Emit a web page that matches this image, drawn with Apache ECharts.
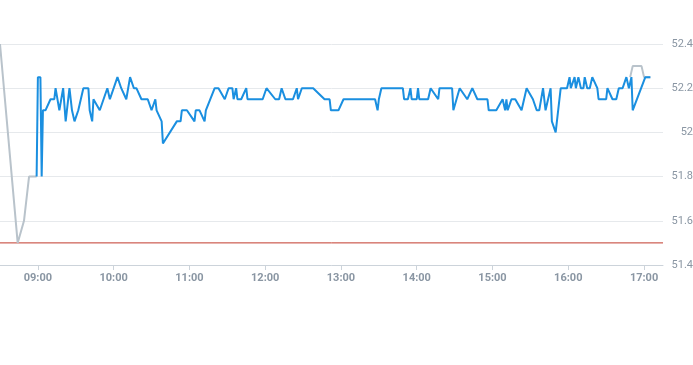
<!DOCTYPE html>
<html>
<head>
<meta charset="utf-8">
<script src="https://cdn.jsdelivr.net/npm/echarts@6/dist/echarts.min.js"></script>
<style>html,body{margin:0;padding:0;background:#fff;}#c{width:693px;height:365px;}</style>
</head>
<body>
<div id="c"></div>
<script>
var axisMin = '08:30';
var axisMax = '17:15';
var yTicks = [51.4, 51.6, 51.8, 52, 52.2, 52.4];
var refLevel = 51.5;

var preTimes = ['08:30','08:44','08:49','08:53','08:59'];
var preValues = [52.4, 51.5, 51.6, 51.8, 51.8];

var postTimes = ['16:49','16:51','16:58','17:00','17:05'];
var postValues = [52.25, 52.3, 52.3, 52.25, 52.25];

var blueTimes = ['08:59','09:00','09:02','09:03','09:04','09:06','09:10','09:13','09:14','09:17','09:18','09:20','09:22','09:23','09:25','09:27','09:29','09:32','09:36','09:40','09:41','09:43','09:44','09:49','09:55','09:56','09:57','10:03','10:06','10:10','10:13','10:16','10:18','10:22','10:27','10:30','10:33','10:34','10:38','10:39','10:50','10:53','10:54','10:58','11:04','11:05','11:08','11:12','11:13','11:20','11:23','11:28','11:31','11:34','11:35','11:37','11:38','11:41','11:45','11:46','11:58','12:01','12:08','12:11','12:13','12:16','12:22','12:25','12:26','12:29','12:38','12:47','12:51','12:52','12:58','13:02','13:27','13:29','13:30','13:32','13:49','13:50','13:53','13:55','13:56','14:00','14:01','14:02','14:09','14:11','14:17','14:18','14:28','14:29','14:34','14:40','14:44','14:48','14:56','14:57','15:03','15:08','15:10','15:11','15:12','15:15','15:18','15:23','15:27','15:32','15:35','15:37','15:40','15:42','15:46','15:47','15:50','15:54','15:59','16:01','16:02','16:05','16:06','16:08','16:10','16:12','16:13','16:15','16:17','16:19','16:23','16:24','16:30','16:31','16:35','16:38','16:40','16:43','16:46','16:48','16:50','16:51','17:01','17:05'];
var blueValues = [51.8,52.25,52.25,51.8,52.1,52.1,52.15,52.15,52.2,52.1,52.1,52.2,52.05,52.05,52.2,52.1,52.05,52.1,52.2,52.2,52.1,52.05,52.15,52.1,52.2,52.2,52.15,52.25,52.2,52.15,52.25,52.2,52.2,52.15,52.15,52.1,52.15,52.1,52.05,51.95,52.05,52.05,52.1,52.1,52.05,52.1,52.1,52.05,52.1,52.2,52.2,52.15,52.2,52.2,52.15,52.2,52.15,52.15,52.2,52.15,52.15,52.2,52.15,52.15,52.2,52.15,52.15,52.2,52.15,52.2,52.2,52.15,52.15,52.1,52.1,52.15,52.15,52.1,52.15,52.2,52.2,52.15,52.15,52.2,52.15,52.15,52.2,52.15,52.15,52.2,52.15,52.2,52.2,52.1,52.2,52.15,52.2,52.15,52.15,52.1,52.1,52.15,52.1,52.15,52.1,52.15,52.15,52.1,52.2,52.15,52.1,52.1,52.2,52.1,52.2,52.05,52.0,52.2,52.2,52.25,52.2,52.25,52.2,52.25,52.2,52.2,52.25,52.2,52.2,52.25,52.2,52.15,52.15,52.2,52.15,52.15,52.2,52.2,52.25,52.2,52.25,52.1,52.25,52.25];

function ts(t) {
  var p = t.split(':');
  return new Date(2024, 0, 2, +p[0], +p[1], 0).getTime();
}
function pairs(times, vals) {
  return times.map(function (t, i) { return [ts(t), vals[i]]; });
}

var chart = echarts.init(document.getElementById('c'), null, {renderer: 'canvas'});
var labelColor = '#8a96a3';
chart.setOption({
  animation: false,
  backgroundColor: '#fff',
  grid: {left: 0, right: 30, top: 44, bottom: 100, containLabel: false, outerBoundsMode: 'none'},
  xAxis: {
    type: 'time',
    min: ts(axisMin),
    max: ts(axisMax),
    minInterval: 3600000,
    maxInterval: 3600000,
    axisLine: {show: true, lineStyle: {color: '#ccd3da', width: 1}},
    axisTick: {show: true, length: 5, lineStyle: {color: '#ccd3da'}},
    splitLine: {show: false},
    axisLabel: {
      color: labelColor, fontSize: 11, fontWeight: 'bold',
      fontFamily: 'Roboto, "Noto Sans", sans-serif',
      margin: 8,
      showMinLabel: false, showMaxLabel: false,
      formatter: function (v) {
        var d = new Date(v);
        var h = d.getHours(), m = d.getMinutes();
        return (h < 10 ? '0' : '') + h + ':' + (m < 10 ? '0' : '') + m;
      }
    }
  },
  yAxis: {
    type: 'value',
    position: 'right',
    min: yTicks[0],
    max: yTicks[yTicks.length - 1],
    interval: 0.2,
    axisLine: {show: false},
    axisTick: {show: false},
    splitLine: {show: true, lineStyle: {color: '#e6e9ec', width: 1}},
    axisLabel: {
      color: labelColor, fontSize: 11, align: 'right', margin: 30,
      fontFamily: 'Roboto, "Noto Sans", sans-serif',
      formatter: function (v) { return String(parseFloat(v.toFixed(2))); }
    }
  },
  series: [
    {
      type: 'line', data: [[ts(axisMin), refLevel], [ts(axisMax), refLevel]],
      showSymbol: false, color: '#c23a2c',
      lineStyle: {color: '#c23a2c', width: 1}, z: 0, silent: true
    },
    {
      type: 'line', data: pairs(preTimes, preValues), showSymbol: false,
      lineStyle: {color: '#b9c3cb', width: 2}, z: 1, silent: true
    },
    {
      type: 'line', data: pairs(postTimes, postValues), showSymbol: false,
      lineStyle: {color: '#b9c3cb', width: 2}, z: 1, silent: true
    },
    {
      type: 'line', data: pairs(blueTimes, blueValues), showSymbol: false,
      color: '#1a8fe0',
      lineStyle: {color: '#1a8fe0', width: 2}, z: 3, silent: true
    }
  ]
});
</script>
</body>
</html>
